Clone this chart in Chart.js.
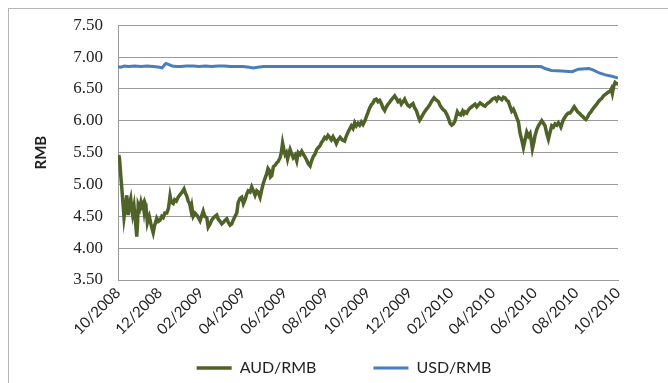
<!DOCTYPE html>
<html>
<head>
<meta charset="utf-8">
<script src="https://cdn.jsdelivr.net/npm/chart.js@4"></script>
<style>
  html, body { margin: 0; padding: 0; background: #fff; }
  #wrap { position: relative; width: 668px; height: 383px; overflow: hidden; }
  #frame { position: absolute; left: 8px; top: 8px; width: 660px; height: 400px;
           border-top: 1px solid #b5b5b5; border-left: 1px solid #b5b5b5; }
  canvas { position: absolute; left: 0; top: 0; }
</style>
</head>
<body>
<div id="wrap">
  <div id="frame"></div>
  <canvas id="c" width="668" height="383"></canvas>
</div>
<script>
// Tick labels of the time axis (one every two months)
const tickLabels = ['10/2008','12/2008','02/2009','04/2009','06/2009','08/2009','10/2009',
                    '12/2009','02/2010','04/2010','06/2010','08/2010','10/2010'];

// AUD/RMB: time in months since 10/2008, and rate
const audMonths = [0.00,0.04,0.08,0.13,0.18,0.24,0.29,0.35,0.42,0.46,0.49,0.55,0.61,0.66,0.70,0.77,0.83,0.90,0.94,0.97,
1.04,1.10,1.14,1.20,1.25,1.30,1.34,1.41,1.46,1.50,1.58,1.64,1.69,1.76,1.82,1.86,1.94,2.02,2.10,2.17,
2.25,2.34,2.42,2.50,2.56,2.65,2.72,2.80,2.89,2.98,3.08,3.17,3.24,3.30,3.37,3.44,3.50,3.54,3.61,3.70,
3.78,3.86,3.94,4.01,4.09,4.16,4.26,4.33,4.42,4.50,4.57,4.66,4.74,4.82,4.90,4.98,5.05,5.14,5.22,5.30,
5.38,5.46,5.53,5.62,5.70,5.77,5.86,5.94,6.02,6.10,6.18,6.25,6.34,6.42,6.50,6.58,6.66,6.73,6.82,6.90,
6.97,7.06,7.14,7.20,7.26,7.32,7.38,7.46,7.54,7.62,7.69,7.78,7.84,7.90,7.96,8.02,8.08,8.14,8.20,8.26,
8.34,8.41,8.50,8.58,8.65,8.74,8.82,8.90,8.98,9.06,9.14,9.22,9.30,9.38,9.46,9.54,9.62,9.70,9.77,9.84,
9.92,10.00,10.08,10.16,10.24,10.32,10.40,10.48,10.56,10.66,10.76,10.88,10.96,11.04,11.12,11.20,11.28,11.36,11.44,11.52,
11.60,11.68,11.76,11.84,11.92,12.00,12.08,12.16,12.24,12.32,12.40,12.48,12.56,12.64,12.72,12.80,12.88,12.96,13.04,13.12,
13.20,13.28,13.36,13.44,13.52,13.60,13.68,13.76,13.84,13.92,14.00,14.08,14.16,14.24,14.32,14.40,14.48,14.56,14.64,14.72,
14.80,14.90,14.98,15.08,15.17,15.26,15.38,15.46,15.54,15.62,15.70,15.78,15.86,15.94,16.02,16.10,16.18,16.24,16.29,16.37,
16.45,16.54,16.60,16.66,16.74,16.82,16.90,16.98,17.06,17.14,17.22,17.30,17.38,17.46,17.54,17.62,17.70,17.78,17.86,17.94,
18.02,18.10,18.18,18.26,18.34,18.42,18.50,18.58,18.66,18.74,18.82,18.90,18.98,19.06,19.14,19.22,19.30,19.38,19.46,19.54,
19.62,19.70,19.78,19.84,19.89,19.96,20.02,20.10,20.18,20.26,20.34,20.42,20.50,20.58,20.66,20.74,20.82,20.90,20.98,21.06,
21.14,21.20,21.26,21.32,21.38,21.46,21.54,21.62,21.70,21.80,21.90,21.98,22.06,22.14,22.22,22.30,22.38,22.46,22.54,22.62,
22.70,22.78,22.90,22.98,23.06,23.14,23.22,23.30,23.38,23.46,23.54,23.62,23.68,23.73,23.80,23.86,23.93,24.00];
const audValues = [5.40,5.46,5.38,5.15,4.95,4.70,4.48,4.62,4.83,4.66,4.52,4.70,4.78,4.62,4.53,4.66,4.45,4.18,4.40,4.68,
4.62,4.72,4.66,4.70,4.58,4.70,4.66,4.40,4.46,4.50,4.38,4.30,4.24,4.36,4.42,4.47,4.42,4.44,4.50,4.48,
4.55,4.55,4.62,4.82,4.72,4.70,4.76,4.74,4.80,4.84,4.88,4.93,4.86,4.82,4.74,4.70,4.60,4.66,4.50,4.55,
4.52,4.48,4.43,4.50,4.58,4.50,4.48,4.33,4.38,4.44,4.47,4.50,4.52,4.45,4.42,4.38,4.40,4.44,4.46,4.40,
4.36,4.38,4.44,4.50,4.55,4.72,4.78,4.80,4.70,4.76,4.85,4.90,4.88,4.96,4.90,4.83,4.90,4.88,4.80,4.92,
5.01,5.10,5.17,5.25,5.22,5.12,5.14,5.28,5.30,5.34,5.36,5.42,5.50,5.65,5.55,5.47,5.50,5.40,5.48,5.55,
5.48,5.42,5.46,5.37,5.50,5.47,5.52,5.47,5.43,5.38,5.32,5.29,5.38,5.44,5.48,5.55,5.58,5.61,5.66,5.69,
5.74,5.72,5.77,5.74,5.70,5.75,5.70,5.64,5.70,5.74,5.70,5.68,5.76,5.82,5.87,5.92,5.88,5.97,5.92,5.96,
5.93,5.98,5.94,5.99,6.06,6.13,6.20,6.25,6.28,6.33,6.34,6.30,6.32,6.27,6.20,6.16,6.22,6.26,6.29,6.33,
6.36,6.39,6.35,6.30,6.32,6.26,6.30,6.34,6.28,6.24,6.22,6.25,6.27,6.20,6.16,6.08,6.01,6.05,6.10,6.14,
6.18,6.22,6.26,6.32,6.36,6.33,6.30,6.24,6.20,6.17,6.15,6.10,6.04,5.96,5.93,5.95,6.00,6.08,6.14,6.10,
6.09,6.15,6.11,6.14,6.12,6.17,6.20,6.22,6.24,6.26,6.22,6.25,6.28,6.26,6.24,6.23,6.26,6.28,6.30,6.33,
6.35,6.36,6.32,6.37,6.35,6.33,6.37,6.36,6.32,6.30,6.22,6.15,6.18,6.12,6.05,5.98,5.80,5.70,5.58,5.70,
5.82,5.76,5.80,5.68,5.56,5.66,5.77,5.86,5.92,5.96,6.00,5.96,5.92,5.80,5.71,5.82,5.92,5.90,5.95,5.93,
5.97,5.94,5.90,5.96,6.02,6.06,6.10,6.12,6.12,6.17,6.22,6.18,6.14,6.12,6.09,6.07,6.04,6.02,6.06,6.11,
6.14,6.18,6.23,6.26,6.30,6.33,6.35,6.39,6.41,6.43,6.45,6.46,6.50,6.43,6.55,6.60,6.58,6.58];

// USD/RMB: time in months since 10/2008, and rate
const usdMonths = [0.00,0.15,0.30,0.50,0.80,1.10,1.40,1.70,2.00,2.12,2.22,2.30,2.45,2.60,2.80,3.00,3.30,3.60,3.90,4.20,
4.50,4.80,5.10,5.40,5.70,6.00,6.30,6.50,6.70,7.00,7.50,8.00,9.00,10.00,12.00,14.00,16.00,18.00,20.00,20.30,
20.50,20.80,21.30,21.80,22.10,22.60,22.80,23.10,23.40,23.70,24.00];
const usdValues = [6.85,6.84,6.86,6.85,6.86,6.85,6.86,6.85,6.84,6.83,6.87,6.90,6.88,6.86,6.85,6.85,6.86,6.86,6.85,6.86,
6.85,6.86,6.86,6.85,6.85,6.85,6.84,6.83,6.84,6.85,6.85,6.85,6.85,6.85,6.85,6.85,6.85,6.85,6.85,6.85,
6.82,6.79,6.78,6.77,6.81,6.82,6.80,6.75,6.72,6.70,6.67];

const seriesNames = ['AUD/RMB', 'USD/RMB'];
const yTitle = 'RMB';

const toPoints = (xs, ys) => xs.map((x, i) => ({ x: x, y: ys[i] }));

// Moves the (wide-spaced) legend row up so its text sits just under the axis labels
const legendPlace = {
  id: 'legendPlace',
  afterLayout(chart) {
    const lg = chart.legend;
    if (!lg) return;
    const h = lg.bottom - lg.top;
    lg.top = 303;
    lg.bottom = 303 + h;
  }
};

new Chart(document.getElementById('c'), {
  type: 'line',
  data: {
    datasets: [
      { label: seriesNames[0], data: toPoints(audMonths, audValues),
        borderColor: '#4f6228', backgroundColor: '#4f6228', borderWidth: 3.5,
        pointRadius: 0, pointStyle: 'line', tension: 0 },
      { label: seriesNames[1], data: toPoints(usdMonths, usdValues),
        borderColor: '#4a7ebb', backgroundColor: '#4a7ebb', borderWidth: 3,
        pointRadius: 0, pointStyle: 'line', tension: 0 }
    ]
  },
  plugins: [legendPlace],
  options: {
    responsive: false,
    devicePixelRatio: 1,
    animation: false,
    layout: { padding: { left: 70, top: 24, right: 50, bottom: -50 } },
    plugins: {
      legend: {
        position: 'bottom',
        labels: {
          usePointStyle: true,
          pointStyleWidth: 35,
          padding: 57,
          color: '#222',
          font: { family: 'Lato', size: 16 }
        }
      },
      tooltip: { enabled: false }
    },
    scales: {
      x: {
        type: 'linear',
        min: 0, max: 24,
        afterFit: (s) => { s.height = 70; },
        grid: { display: false, drawTicks: false },
        border: { display: true, color: '#9a9a9a', width: 1 },
        ticks: {
          stepSize: 2, autoSkip: false, maxRotation: 45, minRotation: 45,
          padding: 4, color: '#222',
          font: { family: 'Lato', size: 15 },
          callback: (v) => tickLabels[Math.round(v / 2)]
        }
      },
      y: {
        min: 3.5, max: 7.5,
        afterFit: (s) => { s.width = 48; },
        title: { display: true, text: yTitle, color: '#222',
                 font: { family: 'Lato', size: 15, weight: 'bold' },
                 padding: { top: -38, bottom: 0 } },
        grid: { color: '#9a9a9a', lineWidth: 1, drawTicks: false },
        border: { display: true, color: '#9a9a9a', width: 1 },
        ticks: {
          stepSize: 0.5, padding: 15, color: '#222',
          font: { family: 'Liberation Serif', size: 17 },
          callback: (v) => v.toFixed(2)
        }
      }
    }
  }
});
</script>
</body>
</html>
